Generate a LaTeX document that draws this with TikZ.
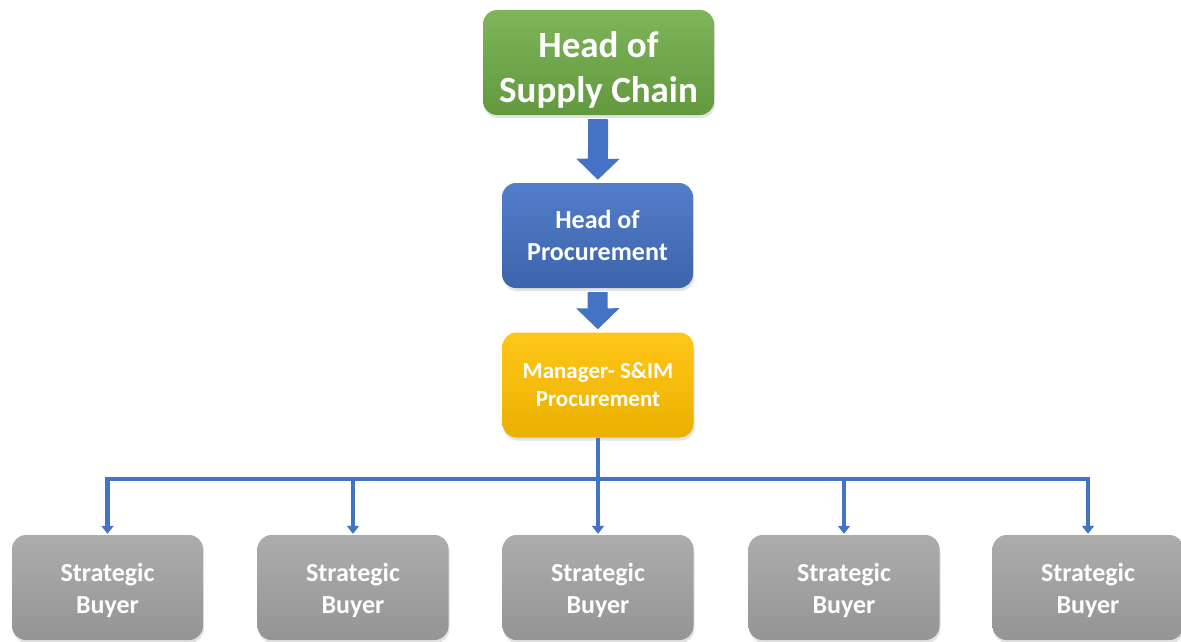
\documentclass[tikz,border=0pt]{standalone}
\usepackage{fontspec}
\setmainfont{Carlito}
\usetikzlibrary{arrows.meta,shadows}
\definecolor{chaingreen}{HTML}{70AD47}
\definecolor{procblue}{HTML}{4472C4}
\definecolor{mgrgold}{HTML}{FFC000}
\definecolor{buyergray}{HTML}{A5A5A5}
\definecolor{linkblue}{HTML}{4472C4}

\begin{document}
\begin{tikzpicture}[x=1pt,y=-1pt,
	orgbox/.style={rounded corners=14pt, minimum height=105pt, minimum width=191pt,
		inner sep=0pt, text=white, align=center,
		drop shadow={opacity=0.22, shadow xshift=1pt, shadow yshift=-3pt}},
	chainbox/.style={orgbox, minimum width=231pt, top color=chaingreen!90!white, bottom color=chaingreen!88!black,
		font=\fontsize{37}{45}\selectfont\bfseries, text height=85pt},
	procbox/.style={orgbox, top color=procblue!92!white, bottom color=procblue!88!black,
		font=\fontsize{26}{32}\selectfont\bfseries},
	mgrbox/.style={orgbox, top color=mgrgold!90!white, bottom color=mgrgold!92!black,
		font=\fontsize{23}{28}\selectfont\bfseries},
	buyerbox/.style={orgbox, top color=buyergray!92!white, bottom color=buyergray!90!black,
		font=\fontsize{26}{32}\selectfont\bfseries, text height=56pt},
	blockarrow/.style={draw=linkblue, line width=20pt, -{Triangle[width=42pt,length=21pt]},
		shorten <=4pt, shorten >=3pt},
	treeline/.style={draw=linkblue, line width=4.5pt},
	treedrop/.style={treeline, -{Triangle[width=12pt,length=8pt]}, shorten >=1pt}]
	\useasboundingbox (0,0) rectangle (1181,642);
	\node[chainbox] (chain) at (598.5,62.5) {Head of\\Supply Chain};
	\node[procbox] (proc) at (597.5,235.5) {Head of\\Procurement};
	\node[mgrbox] (mgr) at (598,385) {Manager- S\&IM\\Procurement};
	\node[buyerbox] (b1) at (107.5,587.5) {Strategic\\Buyer};
	\node[buyerbox] (b2) at (353,587.5) {Strategic\\Buyer};
	\node[buyerbox] (b3) at (598,587.5) {Strategic\\Buyer};
	\node[buyerbox] (b4) at (844,587.5) {Strategic\\Buyer};
	\node[buyerbox] (b5) at (1088,587.5) {Strategic\\Buyer};
	\coordinate (bus) at (598,479);
	\draw[blockarrow] (chain) -- (proc);
	\draw[blockarrow] (proc) -- (mgr);
	\draw[treeline] (mgr.south) -- (mgr.south |- bus);
	\draw[treeline, line cap=rect] (bus -| b1) -- (bus -| b5);
	\foreach \i in {1,...,5}
		\draw[treedrop] (bus -| b\i) -- (b\i.north);
\end{tikzpicture}
\end{document}
